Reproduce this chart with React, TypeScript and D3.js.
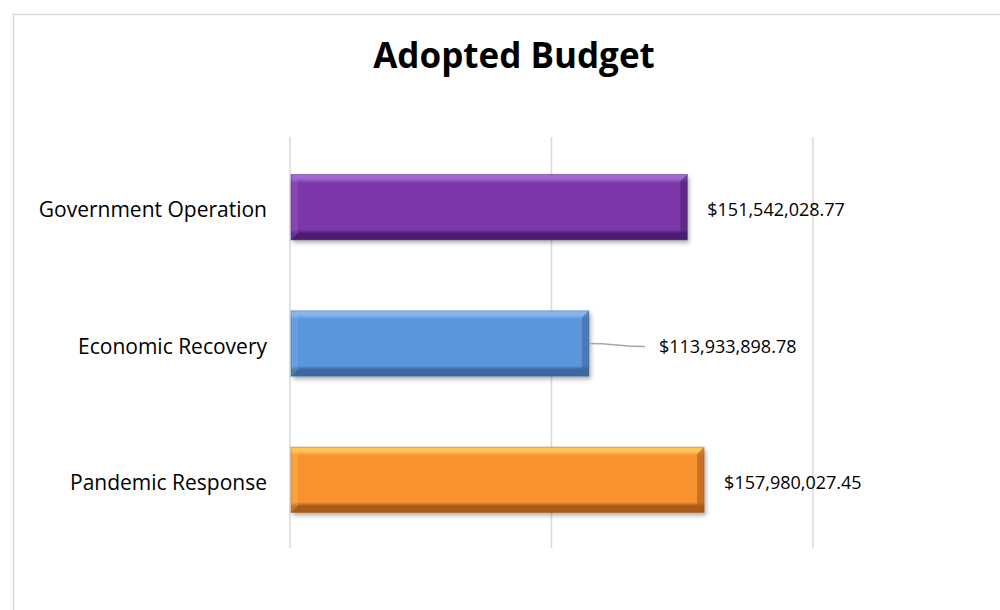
import { scaleBand, scaleLinear, format } from 'd3';

// Chart data
const categories = ['Government Operation', 'Economic Recovery', 'Pandemic Response'];
const budgetValues = [151542028.77, 113933898.78, 157980027.45];
const barColors = ['#7B38A8', '#5A96DC', '#F7922E'];
const barLight = ['#A06BD0', '#86B6EC', '#FFC45A'];
const barDark = ['#4E1E72', '#3A679E', '#A95A17'];
const gridTicks = [0, 100000000, 200000000];
const leaderLabel = 'Economic Recovery';

const W = 1000;
const H = 610;
const FONT = '"Open Sans", "Noto Sans", sans-serif';

function App() {
    // Scales
    const x = scaleLinear().domain([0, 200000000]).range([291, 814]);
    const y = scaleBand<string>()
        .domain(categories)
        .range([139, 548])
        .paddingInner(0.52)
        .paddingOuter(0.26);
    const money = (v: number) => '$' + format(',.2f')(v);
    const bevel = 7;

    return (
        <div style={{ position: 'fixed', left: 0, top: 0 }}>
            <svg width={W} height={H} viewBox={`0 0 ${W} ${H}`} style={{ display: 'block' }}>
                <defs>
                    {categories.map((c, i) => (
                        <linearGradient key={c} id={`g${i}`} x1="0" y1="0" x2="0" y2="1">
                            <stop offset="0" stopColor={barLight[i]} />
                            <stop offset="0.06" stopColor={barLight[i]} />
                            <stop offset="0.13" stopColor={barColors[i]} />
                            <stop offset="0.84" stopColor={barColors[i]} />
                            <stop offset="0.9" stopColor={barDark[i]} />
                            <stop offset="1" stopColor={barDark[i]} />
                        </linearGradient>
                    ))}
                    <filter id="shadow" x="-5%" y="-20%" width="110%" height="150%">
                        <feDropShadow dx="2" dy="3" stdDeviation="2" floodColor="#000" floodOpacity="0.3" />
                    </filter>
                </defs>
                <rect x={0} y={0} width={W} height={H} fill="#fff" />
                {/* chart frame, runs off the right and bottom */}
                <rect x={13.5} y={14.5} width={W} height={H} fill="none" stroke="#d9d9d9" strokeWidth={1.5} />

                <text x={514} y={68} textAnchor="middle" fontFamily={FONT} fontWeight={700} fontSize={35} fill="#000">
                    Adopted Budget
                </text>

                {/* gridlines */}
                {gridTicks.map((t) => (
                    <line key={t} x1={x(t) - 1} x2={x(t) - 1} y1={137} y2={548} stroke="#d9d9d9" strokeWidth={1.5} />
                ))}

                {/* bars */}
                {categories.map((c, i) => {
                    const x0 = x(0);
                    const x1 = x(budgetValues[i]);
                    const y0 = y(c) as number;
                    const bh = y.bandwidth();
                    const y1 = y0 + bh;
                    return (
                        <g key={c}>
                            <rect x={x0} y={y0} width={x1 - x0} height={bh} fill={`url(#g${i})`} filter="url(#shadow)" />
                            <polygon
                                points={`${x0},${y0} ${x0 + bevel},${y0 + bevel} ${x0 + bevel},${y1 - bevel} ${x0},${y1}`}
                                fill={barLight[i]}
                                opacity={0.3}
                            />
                            <polygon
                                points={`${x1},${y0} ${x1 - bevel},${y0 + bevel} ${x1 - bevel},${y1 - bevel} ${x1},${y1}`}
                                fill={barDark[i]}
                                opacity={0.6}
                            />
                            <rect x={x0} y={y0} width={x1 - x0} height={bh} fill="none" stroke={barDark[i]} strokeOpacity={0.45} strokeWidth={1} />
                        </g>
                    );
                })}

                {/* category labels */}
                {categories.map((c) => (
                    <text
                        key={c}
                        x={267}
                        y={(y(c) as number) + y.bandwidth() / 2 + 2}
                        textAnchor="end"
                        dominantBaseline="central"
                        fontFamily={FONT}
                        fontSize={21}
                        fill="#000"
                    >
                        {c}
                    </text>
                ))}

                {/* value labels */}
                {categories.map((c, i) => {
                    const cy = (y(c) as number) + y.bandwidth() / 2;
                    const xe = x(budgetValues[i]);
                    const pushed = c === leaderLabel;
                    const lx = xe + (pushed ? 70 : 20);
                    return (
                        <g key={c}>
                            {pushed && (
                                <path
                                    d={`M${xe},${cy} C${xe + 25},${cy} ${xe + 30},${cy + 3} ${lx - 14},${cy + 3}`}
                                    fill="none"
                                    stroke="#a6a6a6"
                                    strokeWidth={1.5}
                                />
                            )}
                            <text
                                x={lx}
                                y={cy + 2}
                                dominantBaseline="central"
                                fontFamily={FONT}
                                fontSize={18}
                                fill="#000"
                            >
                                {money(budgetValues[i])}
                            </text>
                        </g>
                    );
                })}
            </svg>
        </div>
    );
}

export default App;
